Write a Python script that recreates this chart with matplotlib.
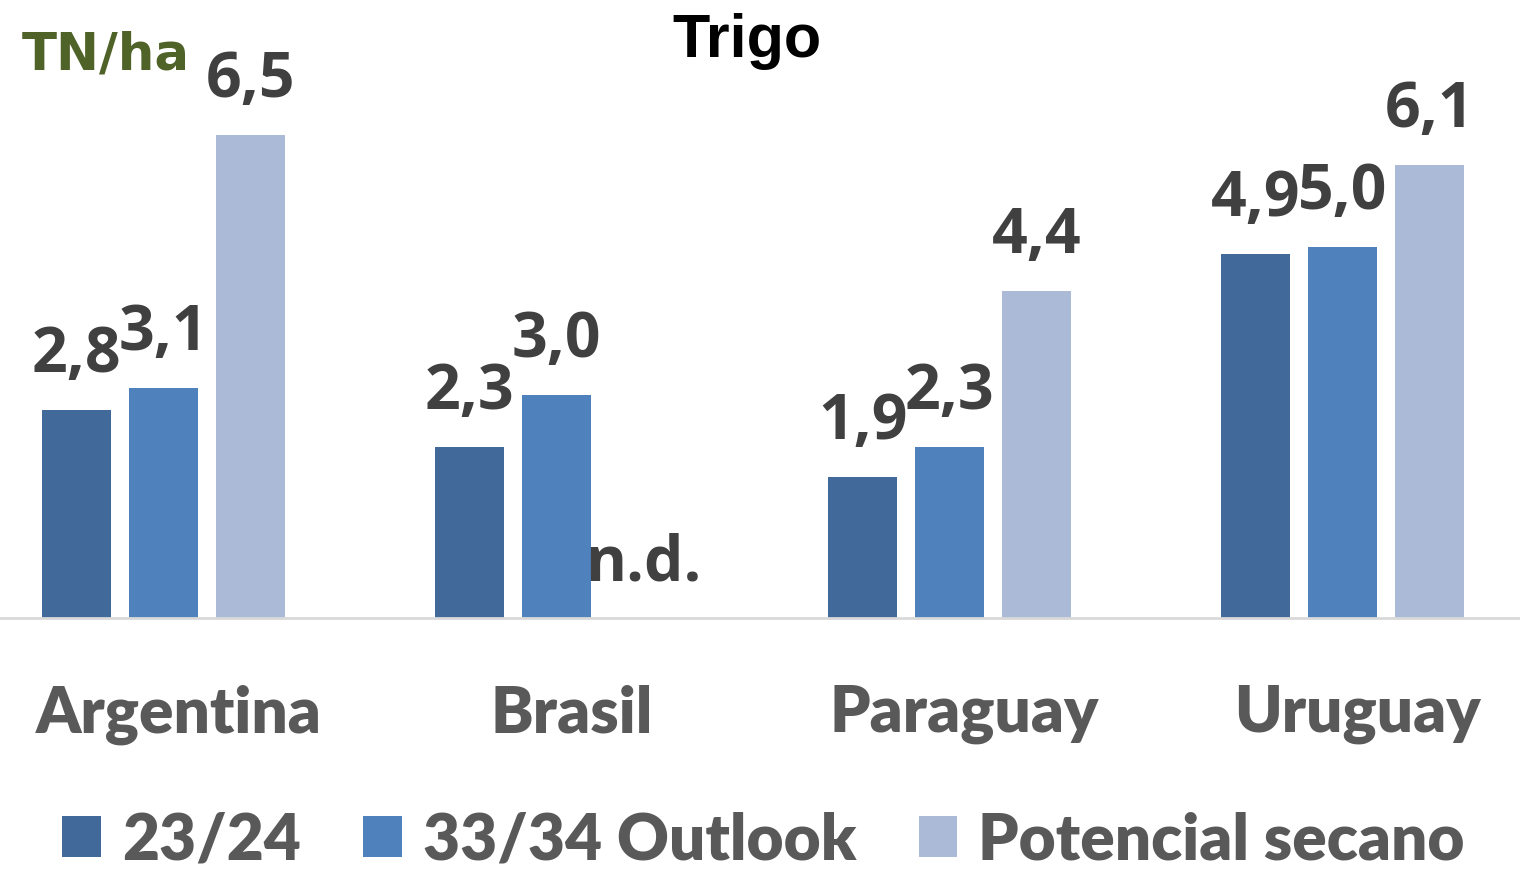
import matplotlib
matplotlib.use("Agg")
import matplotlib.pyplot as plt
import numpy as np

categories = ["Argentina", "Brasil", "Paraguay", "Uruguay"]
series_names = ["23/24", "33/34 Outlook", "Potencial secano"]
v_2324 = [2.8, 2.3, 1.9, 4.9]
v_outlook = [3.1, 3.0, 2.3, 5.0]
v_potencial = [6.5, 0.0, 4.4, 6.1]
lab_2324 = ["2,8", "2,3", "1,9", "4,9"]
lab_outlook = ["3,1", "3,0", "2,3", "5,0"]
lab_potencial = ["6,5", "n.d.", "4,4", "6,1"]

colors = ["#41699A", "#4F81BD", "#AABAD7"]
W, H = 1520, 870
fig = plt.figure(figsize=(W / 100, H / 100), dpi=100)
base_px = 619
ax = fig.add_axes([0, (H - base_px) / H, 1, base_px / H])
px_per_unit = 74.3
ax.set_ylim(0, base_px / px_per_unit)
spacing = 393.0
c0 = 163.5
ax.set_xlim(-c0 / spacing, (W - c0) / spacing)

x = np.arange(len(categories))
bw = 69 / spacing
off = 87 / spacing
vals = [v_2324, v_outlook, v_potencial]
labs = [lab_2324, lab_outlook, lab_potencial]
value_font = dict(family=["Open Sans", "DejaVu Sans"], weight="bold", size=45)
handles = []
for k in range(3):
    bars = ax.bar(x + (k - 1) * off, vals[k], width=bw, color=colors[k],
                  label=series_names[k], zorder=2)
    handles.append(bars)
    ax.bar_label(bars, labels=labs[k], padding=17, color="#404040", **value_font)

for s in ["top", "right", "left"]:
    ax.spines[s].set_visible(False)
ax.spines["bottom"].set_color("#D9D9D9")
ax.spines["bottom"].set_linewidth(2)
ax.set_yticks([])
ax.set_xticks(x + 15 / spacing)
ax.set_xticklabels(categories, family=["Lato", "DejaVu Sans"],
                   weight="heavy", size=46, color="#595959")
ax.tick_params(axis="x", length=0, pad=47)

fig.text(747 / W, 1 - 13 / H, "Trigo", ha="center", va="top",
         family=["Liberation Sans", "DejaVu Sans"], weight="bold", size=44, color="black")
fig.text(22 / W, 1 - 70 / H, "TN/ha", ha="left", va="baseline",
         family=["DejaVu Sans"], weight="bold", size=37, color="#4F6228")

leg = fig.legend(handles=handles, labels=series_names, loc="lower center",
                 bbox_to_anchor=(0.5023, -0.045), ncol=3, frameon=False,
                 prop=dict(family=["Lato", "DejaVu Sans"], weight="heavy", size=46),
                 handlelength=0.6, handleheight=0.62, handletextpad=0.33,
                 columnspacing=0.98, borderaxespad=0.2)
for t in leg.get_texts():
    t.set_color("#595959")

fig.savefig("out.png", dpi=100)
